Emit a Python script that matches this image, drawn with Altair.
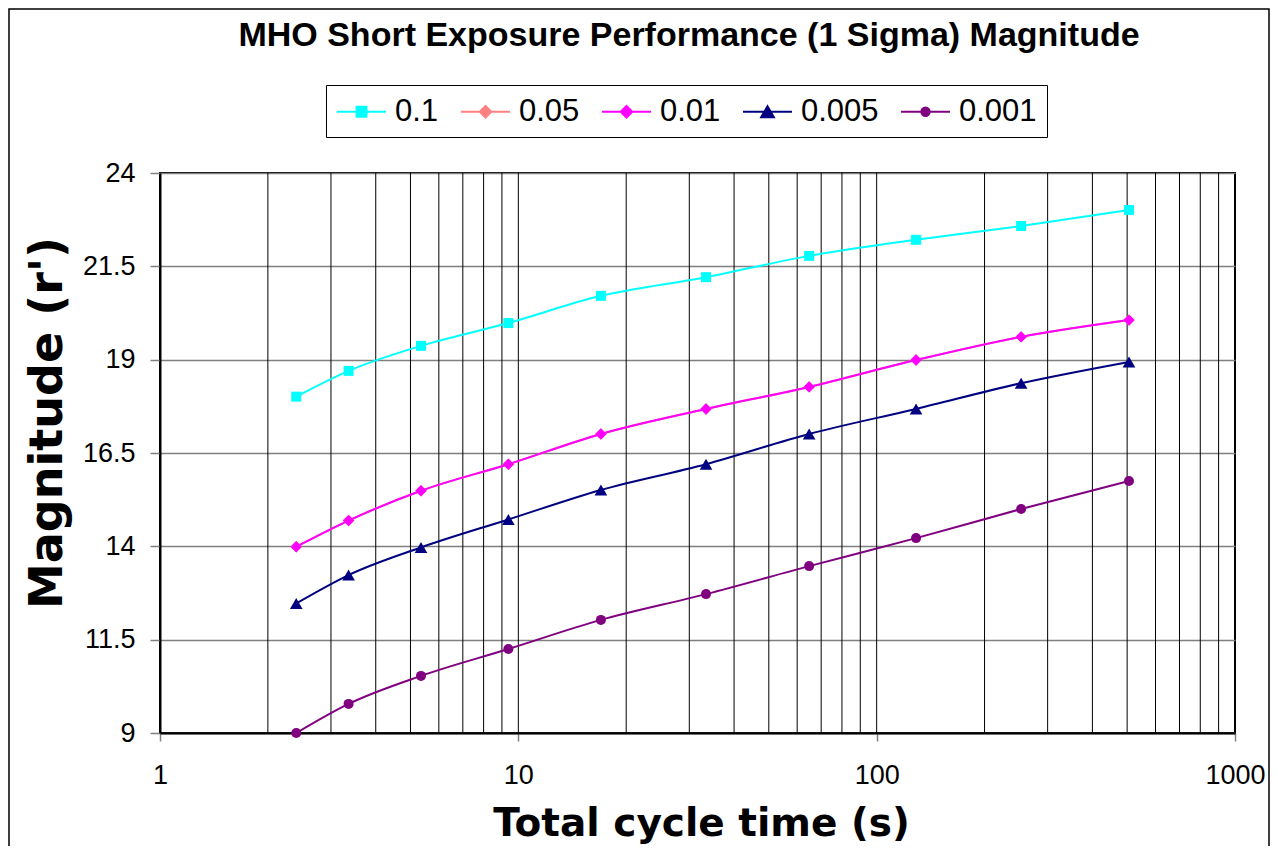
import altair as alt
import pandas as pd

# ---- data ----
series_names = ["0.1", "0.05", "0.01", "0.005", "0.001"]
cycle_time = [2.4, 3.36, 5.35, 9.38, 17.0, 33.4, 64.8, 128.8, 253.0, 506.0]
mag_0_1 = [18.01, 18.70, 19.37, 19.98, 20.71, 21.21, 21.78, 22.21, 22.58, 23.01]
mag_0_05 = [13.99, 14.69, 15.49, 16.20, 17.01, 17.68, 18.27, 18.99, 19.61, 20.06]  # hidden under 0.01
mag_0_01 = [13.99, 14.69, 15.49, 16.20, 17.01, 17.68, 18.27, 18.99, 19.61, 20.06]
mag_0_005 = [12.47, 13.23, 13.97, 14.72, 15.51, 16.20, 17.01, 17.68, 18.37, 18.94]
mag_0_001 = [9.00, 9.78, 10.53, 11.25, 12.03, 12.72, 13.47, 14.22, 15.00, 15.75]
y_ticks = [9, 11.5, 14, 16.5, 19, 21.5, 24]
x_labels = [1, 10, 100, 1000]
x_grid = [2, 3, 4, 5, 6, 7, 8, 9, 10, 20, 30, 40, 50, 60, 70, 80, 90, 100,
          200, 300, 400, 500, 600, 700, 800, 900]
chart_title = "MHO Short Exposure Performance (1 Sigma) Magnitude"
x_title = "Total cycle time (s)"
y_title = "Magnitude (r')"

# ---- styles ----
colors = ["#00FFFF", "#FF8080", "#FF00FF", "#000080", "#800080"]
marker_shapes = {"0.1": "square", "0.05": "diamond", "0.01": "diamond",
                 "0.005": "triangle-up", "0.001": "circle"}
marker_sizes = {"0.1": 100, "0.05": 130, "0.01": 130, "0.005": 160, "0.001": 100}
legend_paths = [
    "M-1.58,0H1.58M-0.32,-0.32H0.32V0.32H-0.32Z",
    "M-1.58,0H1.58M0,-0.37L0.37,0L0,0.37L-0.37,0Z",
    "M-1.58,0H1.58M0,-0.37L0.37,0L0,0.37L-0.37,0Z",
    "M-1.58,0H1.58M0,-0.355L0.41,0.355H-0.41Z",
    "M-1.58,0H1.58M-0.27,0A0.27,0.27,0,1,0,0.27,0A0.27,0.27,0,1,0,-0.27,0Z",
]

all_series = [mag_0_1, mag_0_05, mag_0_01, mag_0_005, mag_0_001]
rows = []
for name, vals in zip(series_names, all_series):
    for i, (t, m) in enumerate(zip(cycle_time, vals)):
        rows.append({"series": name, "t": t, "mag": m, "idx": i,
                     "shape": marker_shapes[name], "msize": marker_sizes[name]})
df = pd.DataFrame(rows)
grid_df = pd.DataFrame({"g": x_grid})

x_scale = alt.Scale(type="log", domain=[1, 1000], nice=False)
y_scale = alt.Scale(domain=[9, 24], nice=False, zero=False)
color_scale = alt.Scale(domain=series_names, range=colors)

x_axis = alt.Axis(values=x_labels, format="d", title=x_title,
                  titleFont="DejaVu Sans", titleFontWeight="bold", titleFontSize=39,
                  titleColor="black", titleX=541, titleY=102, titleBaseline="alphabetic",
                  titleAlign="center", titleAnchor="start",
                  labelFont="Liberation Sans", labelFontSize=27, labelColor="black",
                  labelPadding=21, labelFlush=False, labelOverlap=False,
                  tickSize=8, tickColor="#808080", tickWidth=1.5,
                  domainColor="black", domainWidth=2, grid=False)
y_axis = alt.Axis(values=y_ticks, format=".3~g", title=y_title,
                  titleFont="DejaVu Sans", titleFontWeight="bold", titleFontSize=46,
                  titleColor="black", titleAngle=270, titleX=-98.5, titleY=249.5,
                  titleBaseline="alphabetic", titleAlign="center", titleAnchor="start",
                  labelFont="Liberation Sans", labelFontSize=27, labelColor="black",
                  labelPadding=15, labelFlush=False, labelOverlap=False,
                  tickSize=10, tickColor="#808080", tickWidth=1.5,
                  domainColor="black", domainWidth=2,
                  grid=True, gridColor="#808080", gridWidth=1.5)

leg = alt.Legend(title=None, orient="none", legendX=166, legendY=-88,
                 direction="horizontal", symbolSize=961, symbolStrokeWidth=2,
                 symbolOffset=9, labelOffset=17, labelFont="Liberation Sans",
                 labelFontSize=31, labelColor="black", columnPadding=18,
                 padding=10, strokeColor="black", fillColor="white",
                 symbolOpacity=1, labelLimit=300)

# legend-only layer (first, so its legend settings win when layers are merged)
legend_layer = alt.Chart(df).transform_filter("false").mark_point(
    filled=True, opacity=1
).encode(
    x=alt.X("t:Q", scale=x_scale, axis=x_axis),
    y=alt.Y("mag:Q", scale=y_scale, axis=y_axis),
    color=alt.Color("series:N", scale=color_scale, legend=leg),
    stroke=alt.Stroke("series:N", scale=alt.Scale(domain=series_names, range=colors), legend=leg),
    shape=alt.Shape("series:N", scale=alt.Scale(domain=series_names, range=legend_paths), legend=leg),
)

frame = alt.Chart(alt.Data(values=[{"a": 1}])).mark_rect(
    filled=False, stroke="black", strokeWidth=1.5
).encode(x=alt.value(-151), x2=alt.value(1109), y=alt.value(-164), y2=alt.value(720))

vgrid = alt.Chart(grid_df).mark_rule(color="black", strokeWidth=1).encode(
    x=alt.X("g:Q", scale=x_scale, axis=x_axis)
)

lines = alt.Chart(df).mark_line(strokeWidth=2, interpolate="monotone").encode(
    x=alt.X("t:Q", scale=x_scale, axis=x_axis),
    y=alt.Y("mag:Q", scale=y_scale, axis=y_axis),
    color=alt.Color("series:N", scale=color_scale, legend=None),
    detail="series:N",
    order="idx:Q",
)

points = alt.Chart(df).mark_point(filled=True, opacity=1).encode(
    x=alt.X("t:Q", scale=x_scale, axis=x_axis),
    y=alt.Y("mag:Q", scale=y_scale, axis=y_axis),
    color=alt.Color("series:N", scale=color_scale, legend=None),
    shape=alt.Shape("shape:N", scale=None, legend=None),
    size=alt.Size("msize:Q", scale=None, legend=None),
)

title_layer = alt.Chart(alt.Data(values=[{"a": 1}])).mark_text(
    font="Liberation Sans", fontWeight="bold", fontSize=34, color="black",
    align="center", baseline="alphabetic"
).encode(x=alt.value(529), y=alt.value(-127), text=alt.value(chart_title))

chart = alt.layer(legend_layer, vgrid, frame, lines, points, title_layer).properties(
    width=1075, height=560,
    autosize=alt.AutoSizeParams(type="none"),
    padding={"left": 152, "top": 165, "right": 35, "bottom": 113},
    background="white",
).configure_view(stroke="black", strokeWidth=2)

chart.save("out.html", embed_options={"renderer": "svg", "actions": False})
